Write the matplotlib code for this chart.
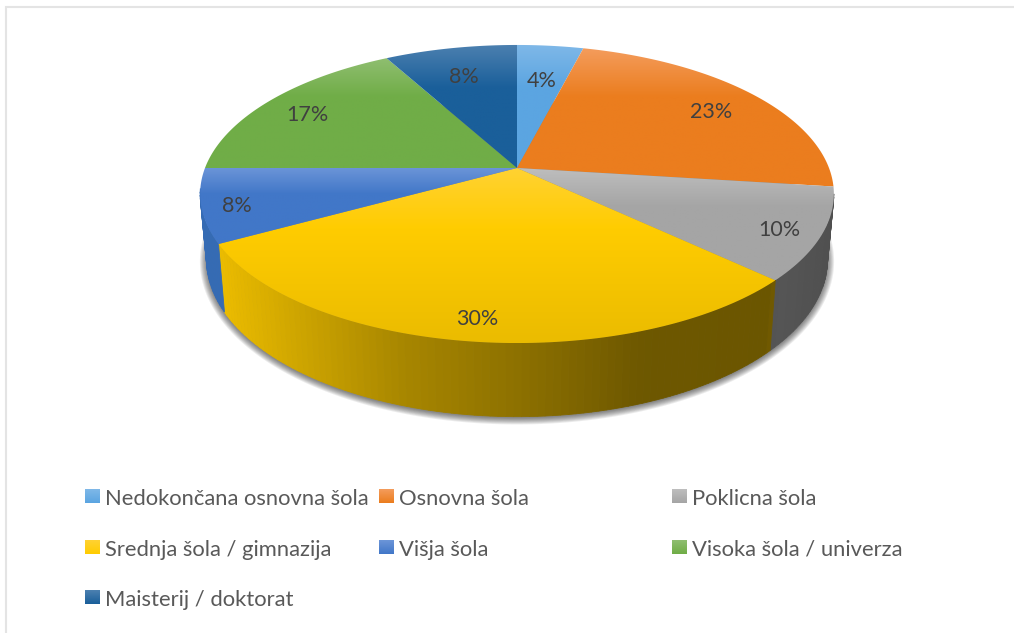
import numpy as np
import matplotlib
matplotlib.use("Agg")
import matplotlib.pyplot as plt
from matplotlib.patches import Polygon

# ---- data -------------------------------------------------------------
categories = ["Nedokončana osnovna šola", "Osnovna šola", "Poklicna šola",
              "Srednja šola / gimnazija", "Višja šola", "Visoka šola / univerza",
              "Maisterij / doktorat"]
shares = [4, 23, 10, 30, 8, 17, 8]
value_labels = ["4%", "23%", "10%", "30%", "8%", "17%", "8%"]

# ---- style ------------------------------------------------------------
base_colors = ["#5BA5E1", "#EB7D1E", "#A5A5A5", "#FFCC00", "#4177C8", "#70AD47", "#1A5F9A"]
top_colors = ["#7FB8E8", "#F49C5C", "#BEBEBE", "#FFD233", "#6C95D8", "#8FBE70", "#4C80B0"]
side_colors = ["#5BA5E1", "#EB7D1E", "#A5A5A5", "#FFCC00", "#3A74C4", "#70AD47", "#1A5F9A"]
bottom_dark = [0.0, 0.0, 0.0, 0.08, 0.0, 0.0, 0.0]
label_radius = [0.72, 0.81, 0.87, 0.87, 0.89, 0.84, 0.77]
TEXT_DARK = "#404040"
TEXT_LEG = "#595959"
FONT = ["Lato", "DejaVu Sans"]

W, H = 1014, 633
fig = plt.figure(figsize=(W / 100, H / 100), dpi=100, facecolor="white")
ax = fig.add_axes([0, 0, 1, 1])
ax.set_xlim(0, W)
ax.set_ylim(H, 0)
ax.axis("off")

# perspective projection of the disk
CX, CY = 517.0, 168.0
A, B, C = 144.5, 312.0, 0.1745


def top_pt(theta, r=1.0):
    x, s = r * np.sin(theta), r * np.cos(theta)
    d = 1 + C * s
    return CX + B * x / d, CY - A * s / d


def bottom_pt(theta):
    x, s = np.sin(theta), np.cos(theta)
    d = 1 + C * s
    return CX + 0.98 * B * x / d, 232.0 - 1.055 * A * s / d


fracs = np.array(shares, dtype=float) / np.sum(shares)
edges = np.concatenate([[0.0], np.cumsum(fracs)]) * 2 * np.pi
vis_lo, vis_hi = np.radians(100.0), np.radians(262.0)

# soft shadow
th = np.linspace(0, 2 * np.pi, 360)
bx, by = bottom_pt(th)
mx, my = bx.mean(), by.mean()
for grow in np.arange(7, -1, -1):
    sx = mx + (bx - mx) * (1 + grow / 330.0)
    sy = my + (by - my) * (1 + grow / 190.0) + 1.5
    ax.add_patch(Polygon(np.c_[sx, sy], closed=True, fc="black", ec="none",
                         alpha=0.075, zorder=1))

# side wall: many shaded strips
shade_x = [200, 220, 400, 520, 640, 772, 778, 835]
shade_f = [0.92, 0.92, 0.66, 0.55, 0.43, 0.42, 0.52, 0.48]
for i in range(len(shares)):
    lo, hi = max(edges[i], vis_lo), min(edges[i + 1], vis_hi)
    if hi <= lo:
        continue
    steps = max(2, int(np.degrees(hi - lo) / 1.2))
    angles = np.linspace(lo, hi, steps + 1)
    rgb = np.array(matplotlib.colors.to_rgb(side_colors[i]))
    for a0, a1 in zip(angles[:-1], angles[1:]):
        p0 = top_pt(a0); p1 = top_pt(a1)
        q1 = bottom_pt(a1); q0 = bottom_pt(a0)
        xm = (p0[0] + p1[0]) / 2
        f = np.interp(xm, shade_x, shade_f)
        ax.add_patch(Polygon([p0, p1, q1, q0], closed=True, fc=rgb * f,
                             ec=rgb * f, lw=0.6, zorder=2))

# top faces with a vertical gradient clipped to each slice
for i in range(len(shares)):
    angles = np.linspace(edges[i], edges[i + 1], 120)
    xs, ys = top_pt(angles)
    pts = np.vstack([[CX, CY], np.c_[xs, ys]])
    c0 = np.array(matplotlib.colors.to_rgb(top_colors[i]))
    c1 = np.array(matplotlib.colors.to_rgb(base_colors[i]))
    y0, y1 = pts[:, 1].min(), pts[:, 1].max()
    t = np.linspace(0, 1, 128)
    ramp = np.clip(t / 0.35, 0, 1)[:, None]
    img = c0 * (1 - ramp) + c1 * ramp
    dark = np.clip((t - 0.35) / 0.65, 0, 1)[:, None]
    img = img * (1 - bottom_dark[i] * dark)
    poly = Polygon(pts, closed=True, fc="none", ec="none", transform=ax.transData)
    ax.add_patch(poly)
    im = ax.imshow(img[:, None, :], extent=[pts[:, 0].min(), pts[:, 0].max(), y1, y0],
                   aspect="auto", zorder=3, interpolation="bilinear")
    im.set_clip_path(poly)
ax.set_xlim(0, W)
ax.set_ylim(H, 0)

# value labels
for i, lab in enumerate(value_labels):
    mid = (edges[i] + edges[i + 1]) / 2
    lx, ly = top_pt(mid, label_radius[i])
    ax.text(lx, ly + 4.5, lab, ha="center", va="center", fontsize=15.5, family=FONT,
            color=TEXT_DARK, zorder=5)

# legend
col_x = [85, 379, 672]
row_y = [489, 540, 590]
for i, name in enumerate(categories):
    sx, sy = col_x[i % 3], row_y[i // 3]
    c0 = np.array(matplotlib.colors.to_rgb(top_colors[i]))
    c1 = np.array(matplotlib.colors.to_rgb(base_colors[i]))
    t = np.linspace(0, 1, 32)[:, None]
    ax.imshow((c0 * (1 - t) + c1 * t)[:, None, :], extent=[sx, sx + 15, sy + 14, sy],
              aspect="auto", zorder=3)
    ax.text(sx + 20, sy + 10, name, ha="left", va="center", fontsize=15.85, family=FONT,
            color=TEXT_LEG, zorder=5)
ax.set_xlim(0, W)
ax.set_ylim(H, 0)

# chart frame
ax.plot([6, 6, 1014], [633, 7, 7], color="#E4E4E4", lw=1.5, zorder=0,
        solid_joinstyle="miter")

fig.savefig("out.png", dpi=100, facecolor="white")
